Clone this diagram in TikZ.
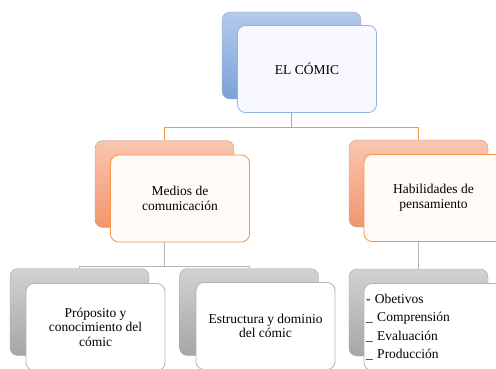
\documentclass[tikz,border=0pt]{standalone}
\usepackage{fontspec}
\setmainfont{Liberation Serif}
\usetikzlibrary{positioning}

\definecolor{bluetop}{HTML}{B3CAEB}
\definecolor{bluebot}{HTML}{7CA1D8}
\definecolor{blueln}{HTML}{8EB4E3}
\definecolor{orgtop}{HTML}{F9C6B0}
\definecolor{orgbot}{HTML}{F3956D}
\definecolor{orgln}{HTML}{F79646}
\definecolor{grytop}{HTML}{D2D2D2}
\definecolor{grybot}{HTML}{A6A6A6}
\definecolor{gryln}{HTML}{B5B5B5}

\begin{document}
\begin{tikzpicture}[
  x=1pt, y=-1pt,
  box/.style={rounded corners=8pt, minimum width=139pt, minimum height=87pt, inner sep=0pt},
  back/.style={box, draw=gray!70},
  blueback/.style={back, top color=bluetop, bottom color=bluebot},
  orgback/.style={back, top color=orgtop, bottom color=orgbot},
  gryback/.style={back, top color=grytop, bottom color=grybot},
  front/.style={box, thick, align=center, font=\fontsize{13.5}{14.5}\selectfont, text=black},
  bluefront/.style={front, draw=blueln, fill=blue!3},
  orgfront/.style={front, draw=orgln, fill=orange!4},
  gryfront/.style={front, draw=gryln, fill=white},
  orgwire/.style={draw=orgln, thick},
  grywire/.style={draw=gryln, thick}
]
\path[use as bounding box] (0,0) rectangle (496,369);
\clip (0,0) rectangle (496,369);

% back boxes
\node[blueback] (elb) at (291.5,55.5) {};
\node[orgback] (mdb) at (164.5,184) {};
\node[orgback] (hab) at (418.5,183.5) {};
\node[gryback] (prb) at (79.5,312) {};
\node[gryback] (esb) at (249,312) {};
\node[gryback] (obb) at (418.5,312.5) {};

% connectors
\draw[orgwire] (elb.south) -- ++(0,28) -| (mdb.north);
\draw[orgwire] (elb.south) -- ++(0,28) -| (hab.north);
\draw[grywire] (mdb.south) -- ++(0,39) -| (prb.north);
\draw[grywire] (mdb.south) -- ++(0,39) -| (esb.north);
\draw[grywire] (hab.south) -- (obb.north);

% front boxes
\node[bluefront] (el) at (307,69) {EL CÓMIC};
\node[orgfront] (md) at (180,198.5) {Medios de\\comunicación};
\node[orgfront] (ha) at (433.5,198) {Habilidades de\\pensamiento};
\node[gryfront] (pr) at (95.5,327) {Próposito y\\conocimiento del\\cómic};
\node[gryfront] (es) at (265.5,326) {Estructura y dominio\\del cómic};
\node[gryfront, align=left, text width=135pt, font=\fontsize{13.5}{18.5}\selectfont] (ob) at (433.5,327)
  {- Obetivos\\\_ Comprensión\\\_ Evaluación\\\_ Producción};
\end{tikzpicture}
\end{document}
